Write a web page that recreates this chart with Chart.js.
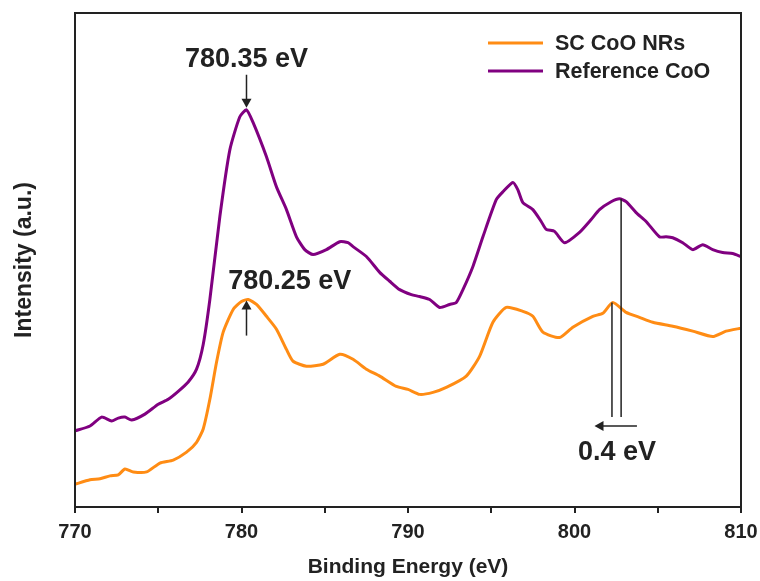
<!DOCTYPE html>
<html>
<head>
<meta charset="utf-8">
<script src="https://cdn.jsdelivr.net/npm/chart.js@4/dist/chart.umd.min.js"></script>
<style>
  html, body { margin: 0; padding: 0; background: #fff; }
  #wrap { width: 760px; height: 581px; }
</style>
</head>
<body>
<div id="wrap"><canvas id="myChart"></canvas></div>
<script>
// binding energy (eV) / intensity (a.u.)
var refEnergy = [770, 770.9, 771.6, 772.2, 772.6, 773.0, 773.4, 774.2, 775.0, 775.6, 776.2, 776.8, 777.3, 777.7, 778.1, 778.7, 779.3, 779.9, 780.3, 780.7, 781.5, 782.1, 782.7, 783.3, 783.8, 784.3, 785.1, 785.9, 786.4, 786.7, 787.5, 788.3, 788.9, 789.5, 790.2, 790.7, 791.3, 791.9, 792.5, 792.9, 793.3, 793.9, 794.5, 795.3, 795.7, 796.3, 796.6, 796.9, 797.5, 798.0, 798.3, 798.8, 799.4, 800.3, 801.0, 801.5, 802.2, 802.7, 803.1, 803.7, 804.3, 805.1, 805.5, 805.9, 806.5, 807.1, 807.7, 808.3, 808.9, 809.5, 810];
var refCoO = [15.4, 16.4, 18.2, 17.4, 18.0, 18.2, 17.6, 18.8, 20.8, 21.8, 23.4, 25.3, 27.9, 32.9, 42.0, 58.8, 72.3, 79.0, 80.4, 77.8, 70.9, 64.8, 60.2, 54.7, 52.1, 51.1, 52.1, 53.7, 53.5, 52.7, 50.7, 47.5, 45.7, 44.0, 43.0, 42.6, 42.0, 40.4, 41.0, 41.4, 44.0, 48.7, 54.7, 62.2, 63.8, 65.7, 64.2, 61.6, 60.2, 57.8, 56.2, 55.8, 53.5, 55.6, 58.2, 60.2, 61.8, 62.4, 61.8, 59.6, 57.8, 54.7, 54.7, 54.5, 53.5, 52.1, 53.1, 52.1, 51.5, 51.3, 50.7];

var scEnergy = [770, 770.9, 771.5, 772.1, 772.6, 773.0, 773.5, 774.3, 775.1, 775.9, 776.7, 777.3, 777.7, 778.1, 778.5, 778.9, 779.5, 780.0, 780.4, 780.9, 781.5, 782.1, 782.7, 783.1, 783.9, 784.9, 785.9, 786.7, 787.5, 788.3, 789.3, 790.0, 790.7, 791.5, 792.3, 793.5, 794.3, 795.1, 795.9, 796.9, 797.5, 798.1, 799.1, 799.9, 801.1, 801.7, 802.3, 803.1, 803.9, 804.7, 805.9, 807.1, 808.3, 809.1, 810];
var scCoO = [4.6, 5.5, 5.7, 6.3, 6.5, 7.7, 7.1, 7.1, 8.9, 9.5, 11.1, 13.1, 15.8, 21.8, 29.3, 35.4, 40.0, 41.6, 42.0, 41.0, 38.6, 36.0, 31.9, 29.5, 28.5, 28.9, 30.9, 29.9, 27.9, 26.5, 24.4, 23.8, 22.8, 23.2, 24.2, 26.5, 30.5, 37.4, 40.4, 39.6, 38.6, 35.4, 34.3, 36.4, 38.6, 39.2, 41.4, 39.4, 38.4, 37.4, 36.6, 35.6, 34.5, 35.6, 36.2];

var seriesNames = ['SC CoO NRs', 'Reference CoO'];
var xTicks = [770, 780, 790, 800, 810];

var FONT = '"Liberation Sans", Arial, sans-serif';

function toPoints(xs, ys) {
  return xs.map(function(x, i){ return {x: x, y: ys[i]}; });
}

function arrow(ctx, x1, y1, x2, y2) {
  var ang = Math.atan2(y2 - y1, x2 - x1);
  var hl = 9, hw = 5;
  ctx.beginPath();
  ctx.moveTo(x1, y1);
  ctx.lineTo(x2 - Math.cos(ang) * hl * 0.8, y2 - Math.sin(ang) * hl * 0.8);
  ctx.stroke();
  ctx.beginPath();
  ctx.moveTo(x2, y2);
  ctx.lineTo(x2 - Math.cos(ang) * hl - Math.sin(ang) * hw, y2 - Math.sin(ang) * hl + Math.cos(ang) * hw);
  ctx.lineTo(x2 - Math.cos(ang) * hl + Math.sin(ang) * hw, y2 - Math.sin(ang) * hl - Math.cos(ang) * hw);
  ctx.closePath();
  ctx.fill();
}

var extras = {
  id: 'extras',
  afterDatasetsDraw: function(chart) {
    var ctx = chart.ctx, a = chart.chartArea;
    var xs = chart.scales.x, ys = chart.scales.y;
    function px(v){ return xs.getPixelForValue(v); }
    function py(v){ return ys.getPixelForValue(v); }
    ctx.save();
    // frame
    ctx.strokeStyle = '#222';
    ctx.lineWidth = 2;
    ctx.strokeRect(a.left, a.top, a.right - a.left, a.bottom - a.top);

    // peak markers
    ctx.strokeStyle = '#222';
    ctx.fillStyle = '#222';
    ctx.lineWidth = 1.5;
    arrow(ctx, px(780.3), py(87.5), px(780.3), py(80.8));
    arrow(ctx, px(780.3), py(34.7), px(780.3), py(41.8));
    ctx.beginPath();
    ctx.moveTo(px(802.25), py(41.4)); ctx.lineTo(px(802.25), py(18.2));
    ctx.moveTo(px(802.8), py(62.4)); ctx.lineTo(px(802.8), py(18.2));
    ctx.stroke();
    arrow(ctx, px(803.75), py(16.4), px(801.2), py(16.4));

    ctx.font = 'bold 27px ' + FONT;
    ctx.textAlign = 'center';
    ctx.textBaseline = 'middle';
    ctx.fillText('780.35 eV', px(780.3), py(90.5));
    ctx.fillText('780.25 eV', px(782.9), py(45.6));
    ctx.fillText('0.4 eV', px(802.55), py(11.1));

    // legend
    ctx.font = 'bold 21.5px ' + FONT;
    ctx.textAlign = 'left';
    chart.data.datasets.forEach(function(ds, i){
      var y = a.top + 30 + i * 28;
      ctx.strokeStyle = ds.borderColor;
      ctx.lineWidth = 3;
      ctx.beginPath();
      ctx.moveTo(488, y); ctx.lineTo(543, y);
      ctx.stroke();
      ctx.fillStyle = '#222';
      ctx.fillText(ds.label, 555, y + 1);
    });
    ctx.restore();
  }
};

var ctx = document.getElementById('myChart');
var myChart = new Chart(ctx, {
  type: 'line',
  data: {
    datasets: [{
      label: seriesNames[0],
      data: toPoints(scEnergy, scCoO),
      borderColor: 'rgb(255,140,20)',
      borderWidth: 3,
      pointRadius: 0,
      tension: 0.2,
      fill: false
    }, {
      label: seriesNames[1],
      data: toPoints(refEnergy, refCoO),
      borderColor: 'rgb(128,0,128)',
      borderWidth: 3,
      pointRadius: 0,
      tension: 0.2,
      fill: false
    }]
  },
  options: {
    responsive: true,
    maintainAspectRatio: false,
    animation: false,
    layout: { padding: { left: 0, right: 19, top: 13, bottom: 0 } },
    plugins: { legend: { display: false }, tooltip: { enabled: false } },
    scales: {
      x: {
        type: 'linear',
        min: 770, max: 810,
        border: { display: false },
        grid: { display: true, drawOnChartArea: false, drawTicks: true, tickLength: 6, color: '#222', lineWidth: 2 },
        ticks: {
          stepSize: 5, autoSkip: false, padding: 7, color: '#222',
          font: { family: FONT, size: 20, weight: 'bold' },
          callback: function(v){ return xTicks.indexOf(v) >= 0 ? String(v) : ''; }
        },
        title: {
          display: true, text: 'Binding Energy (eV)', color: '#222',
          font: { family: FONT, size: 21, weight: 'bold' },
          padding: { top: 3.4, bottom: 1.4 }
        },
        afterFit: function(scale){ scale.paddingLeft = 0; scale.paddingRight = 0; }
      },
      y: {
        min: 0, max: 100,
        border: { display: false },
        grid: { display: false, drawTicks: false },
        ticks: { display: false },
        title: {
          display: true, text: 'Intensity (a.u.)', color: '#222',
          font: { family: FONT, size: 23, weight: 'bold' },
          padding: { top: 11.2, bottom: 36.2 }
        }
      }
    }
  },
  plugins: [extras]
});
</script>
</body>
</html>
